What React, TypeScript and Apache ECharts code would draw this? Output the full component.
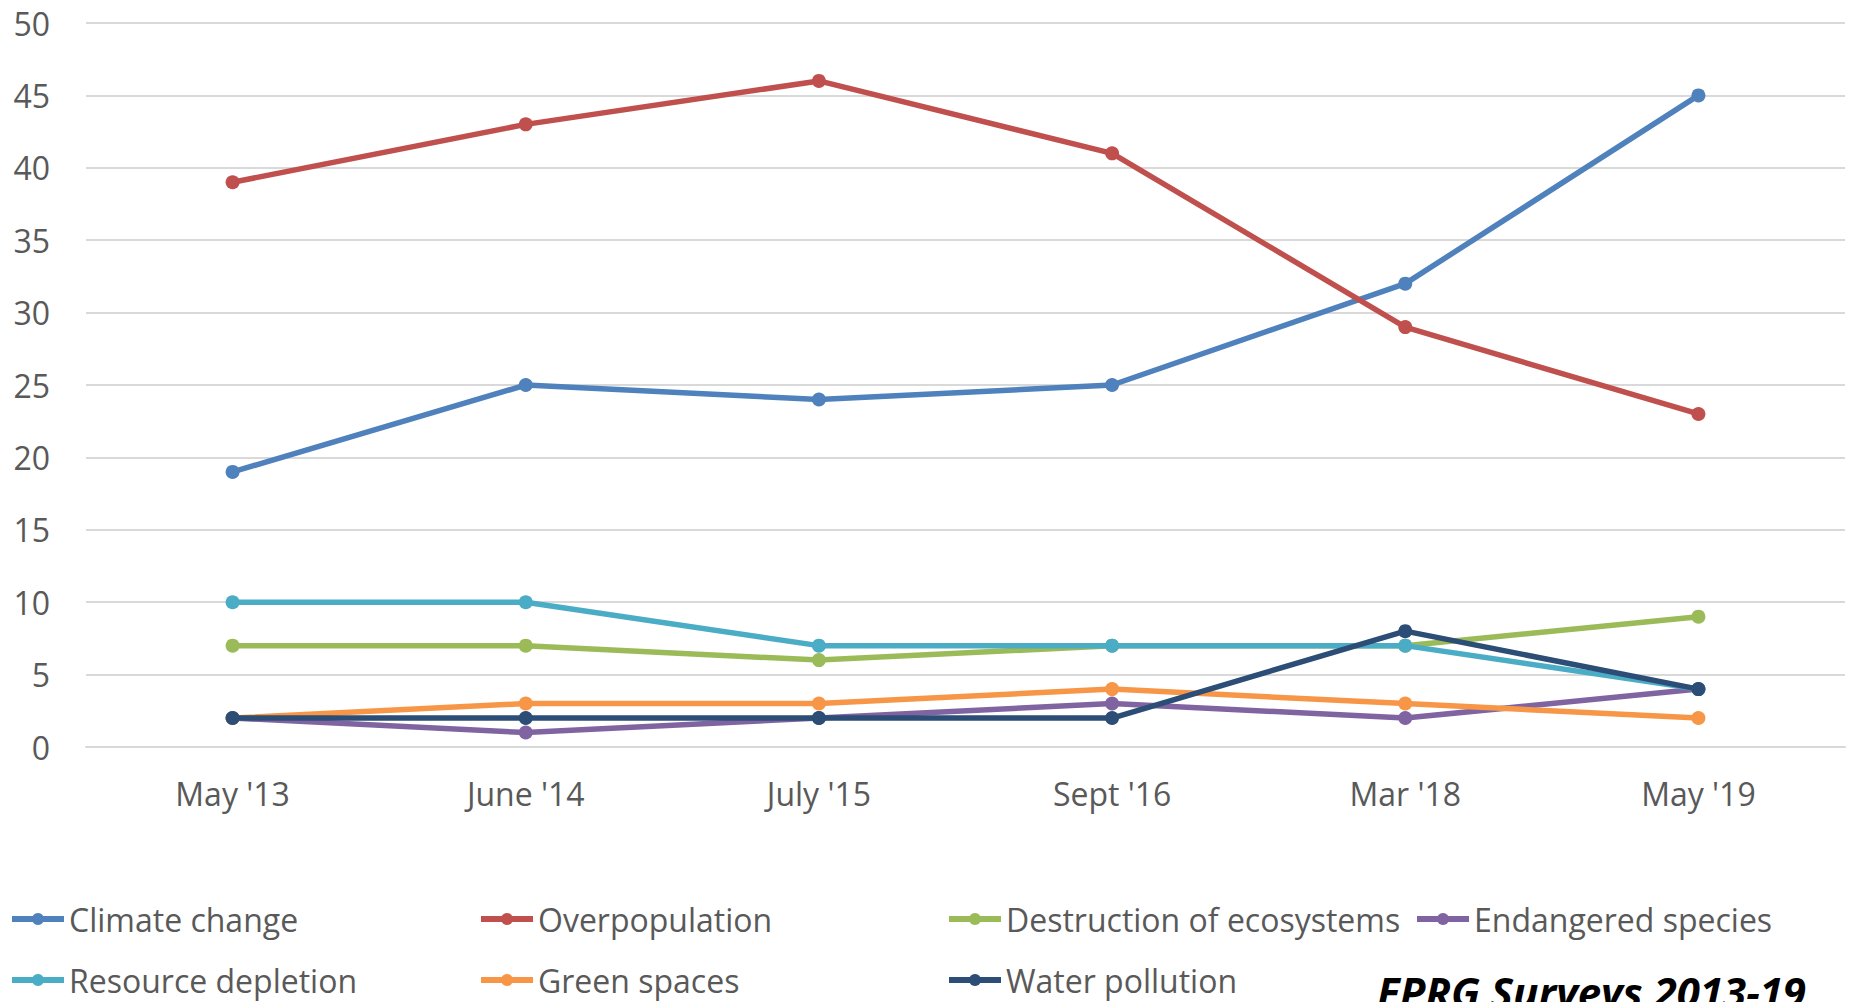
import React, { useEffect, useRef } from "react";
import * as echarts from "echarts";

const categories = ["May '13", "June '14", "July '15", "Sept '16", "Mar '18", "May '19"];
const seriesNames = [
  "Climate change",
  "Overpopulation",
  "Destruction of ecosystems",
  "Endangered species",
  "Resource depletion",
  "Green spaces",
  "Water pollution",
];
const climateChange = [19, 25, 24, 25, 32, 45];
const overpopulation = [39, 43, 46, 41, 29, 23];
const destruction = [7, 7, 6, 7, 7, 9];
const endangered = [2, 1, 2, 3, 2, 4];
const resourceDepletion = [10, 10, 7, 7, 7, 4];
const greenSpaces = [2, 3, 3, 4, 3, 2];
const waterPollution = [2, 2, 2, 2, 8, 4];
const seriesValues = [climateChange, overpopulation, destruction, endangered, resourceDepletion, greenSpaces, waterPollution];
const colors = ["#4F81BD", "#C0504D", "#9BBB59", "#8064A2", "#4BACC6", "#F79646", "#2C4D75"];
const sourceNote = "EPRG Surveys 2013-19";

const FONT = "'Open Sans', sans-serif";
const GRAY = "#595959";

export default function App() {
  const ref = useRef<HTMLDivElement>(null);
  useEffect(() => {
    if (!ref.current) return;
    const chart = echarts.init(ref.current, null, { renderer: "svg" });
    const legendPos = [
      [9, 903], [478, 903], [946, 903], [1414, 903],
      [9, 964], [478, 964], [946, 964],
    ];
    chart.setOption({
      animation: false,
      color: colors,
      grid: { left: 86, right: 4, top: 23, bottom: 255 },
      xAxis: {
        type: "category",
        data: categories,
        boundaryGap: true,
        axisLine: { show: true, lineStyle: { color: "#D9D9D9", width: 2 } },
        axisTick: { show: false },
        axisLabel: { color: GRAY, fontSize: 32, fontFamily: FONT, margin: 30 },
      },
      yAxis: {
        type: "value",
        min: 0,
        max: 50,
        interval: 5,
        axisLine: { show: false },
        axisTick: { show: false },
        splitLine: { lineStyle: { color: "#D9D9D9", width: 2 } },
        axisLabel: { color: GRAY, fontSize: 32, fontFamily: FONT, margin: 36 },
      },
      legend: seriesNames.map((n, i) => ({
        data: [n],
        left: legendPos[i][0],
        top: legendPos[i][1],
        padding: 0,
        itemWidth: 52,
        itemHeight: 15,
        lineStyle: { width: 6 },
        textStyle: { color: GRAY, fontSize: 32, fontFamily: FONT },
      })),
      series: seriesNames.map((n, i) => ({
        name: n,
        type: "line",
        data: seriesValues[i],
        symbol: "circle",
        symbolSize: 14,
        lineStyle: { width: 5.5, color: colors[i] },
        itemStyle: { color: colors[i] },
        z: 2 + i,
      })),
      graphic: [
        {
          type: "text",
          left: 1377,
          top: 970,
          style: {
            text: sourceNote,
            fill: "#000000",
            font: "italic bold 42px 'Open Sans', sans-serif",
          },
        },
      ],
    });
    return () => chart.dispose();
  }, []);
  return (
    <div
      ref={ref}
      style={{ position: "fixed", left: 0, top: 0, width: 1849, height: 1002, background: "#fff" }}
    />
  );
}
